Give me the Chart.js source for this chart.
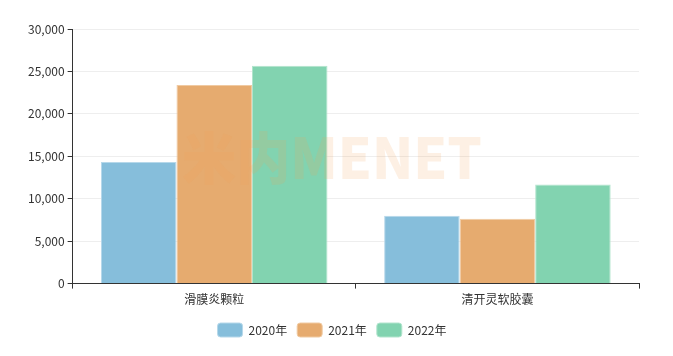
<!DOCTYPE html>
<html>
<head>
<meta charset="utf-8">
<script src="https://cdn.jsdelivr.net/npm/chart.js@4/dist/chart.umd.min.js"></script>
<style>
html,body{margin:0;padding:0;background:#fff;}
#wrap{width:673px;height:356px;position:relative;}
</style>
</head>
<body>
<div id="wrap"><canvas id="c" width="673" height="356"></canvas></div>
<script>
const categories = ["滑膜炎颗粒", "清开灵软胶囊"];
const seriesNames = ["2020年", "2021年", "2022年"];
const values2020 = [14330, 8000];
const values2021 = [23400, 7650];
const values2022 = [25660, 11680];
const yTicks = [0, 5000, 10000, 15000, 20000, 25000, 30000];
const watermarkText = "米内MENET";

const colors = ["#86bedb", "#e6ab6f", "#82d3b0"];
const borders = ["#b6d8ea", "#f0caa2", "#b2e4cd"];
const FONT = "'Noto Sans CJK SC', 'Noto Sans', sans-serif";

const watermark = {
  id: 'watermark',
  afterDatasetsDraw(chart) {
    const ctx = chart.ctx;
    ctx.save();
    ctx.font = "900 56px " + FONT;
    ctx.fillStyle = "rgba(240,160,90,0.16)";
    ctx.textBaseline = "middle";
    ctx.textAlign = "left";
    ctx.fillText(watermarkText, 182, 158, 300);
    ctx.restore();
  }
};

const allSeries = [values2020, values2021, values2022];
new Chart(document.getElementById('c'), {
  type: 'bar',
  data: {
    labels: categories,
    datasets: seriesNames.map((n, i) => ({
      label: n,
      data: allSeries[i],
      backgroundColor: colors[i],
      borderColor: borders[i],
      borderWidth: 1,
      categoryPercentage: 0.8,
      barPercentage: 1.0
    }))
  },
  options: {
    responsive: false,
    animation: false,
    devicePixelRatio: 1,
    layout: { padding: { left: 25, right: 34, top: 29, bottom: 9 } },
    plugins: {
      tooltip: { enabled: false },
      legend: {
        position: 'bottom',
        labels: {
          boxWidth: 25, boxHeight: 14, useBorderRadius: true, borderRadius: 3,
          padding: 10, color: '#333',
          font: { family: FONT, size: 12 }
        }
      }
    },
    scales: {
      x: {
        grid: { display: true, drawOnChartArea: false, tickLength: 5, tickColor: '#333', offset: true },
        border: { color: '#333', width: 1 },
        ticks: { color: '#333', font: { family: FONT, size: 12 }, padding: 4 },
        afterFit(axis) { axis.height += 2; }
      },
      y: {
        min: 0, max: 30000,
        afterBuildTicks(axis) { axis.ticks = yTicks.map(v => ({ value: v })); },
        grid: { color: '#eeeeee', tickLength: 5, tickColor: '#333' },
        border: { color: '#333', width: 1 },
        ticks: {
          color: '#333', font: { family: FONT, size: 12 }, padding: 3,
          callback: v => v.toLocaleString('en-US')
        }
      }
    }
  },
  plugins: [watermark]
});
</script>
</body>
</html>
